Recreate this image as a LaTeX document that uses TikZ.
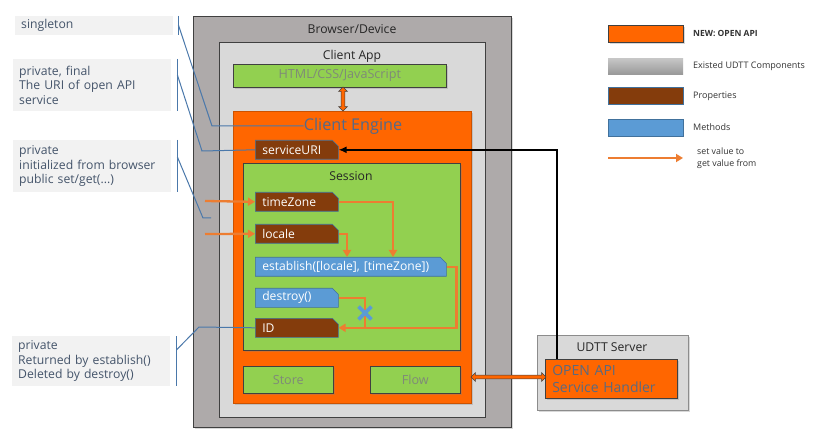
\documentclass[tikz,border=0pt]{standalone}
\usepackage{fontspec}
\setmainfont{Open Sans}
\usetikzlibrary{arrows.meta,shapes.misc,shapes.arrows,calc,shadows}
\definecolor{bgray}{HTML}{AEAAAA}
\definecolor{dkline}{HTML}{404040}
\definecolor{capp}{HTML}{D9D9D9}
\definecolor{eorange}{HTML}{FF6600}
\definecolor{greenc}{HTML}{92D050}
\definecolor{brownc}{HTML}{843C0C}
\definecolor{methblue}{HTML}{5B9BD5}
\definecolor{propline}{HTML}{41719C}
\definecolor{aorange}{HTML}{ED7D31}
\definecolor{notegray}{HTML}{F2F2F2}
\definecolor{notetext}{HTML}{44546A}
\definecolor{bracketc}{HTML}{4A78AA}
\definecolor{gtext}{HTML}{7F8A78}
\definecolor{cetext}{HTML}{53698A}
\definecolor{htext}{HTML}{5A6A80}
\begin{document}
\begin{tikzpicture}[x=1pt,y=-1pt,
  box/.style={anchor=north west, inner sep=0pt},
  shdw/.style={drop shadow={shadow xshift=1.5pt, shadow yshift=-1.5pt, opacity=0.3}},
  title/.style={inner sep=0pt, text=black!85, font=\fontsize{12.2}{14}\selectfont},
  note/.style={anchor=north west, fill=notegray, inner xsep=6pt, inner ysep=0pt,
    minimum width=158pt, text width=146pt, align=left, text=notetext,
    font=\fontsize{12.2}{14.3}\selectfont},
  bracket/.style={draw=bracketc, line width=1pt},
  greenbox/.style={box, fill=greenc, draw=dkline, line width=0.6pt, text=gtext,
    font=\fontsize{12.6}{14}\selectfont, shdw},
  prop/.style={anchor=north west, chamfered rectangle, chamfered rectangle corners=north east,
    chamfered rectangle xsep=3pt, chamfered rectangle ysep=3pt,
    draw=propline, line width=0.6pt, fill=brownc, text=white, inner xsep=4pt, inner ysep=0pt,
    minimum height=19pt, align=left, font=\fontsize{12.1}{14}\selectfont},
  meth/.style={prop, fill=methblue},
  oarrow/.style={draw=aorange, line width=2.3pt, -{Triangle[length=7pt,width=8pt]}},
  oline/.style={draw=aorange, line width=2.3pt},
  dblarrow/.style={double arrow, draw=dkline, fill=eorange, line width=0.5pt,
    inner sep=1.7pt, double arrow head extend=2.5pt},
  legtext/.style={anchor=west, inner sep=0pt, text=black!80, font=\fontsize{9}{12}\selectfont},
]
\useasboundingbox (0,0) rectangle (815,441);
\fill[white] (0,0) rectangle (815,441);

% annotations
\node[note, minimum height=19pt] (n1) at (15,16) {singleton};
\node[note, minimum height=52pt] (n2) at (13,59) {private, final\\The URI of open API\\service};
\node[note, minimum height=52pt] (n3) at (13,140) {private\\initialized from browser\\public set/get(...)};
\node[note, minimum height=50pt] (n4) at (12,336) {private\\Returned by establish()\\Deleted by destroy()};

% containers
\node[box, fill=bgray, draw=dkline, line width=0.8pt, minimum width=318pt, minimum height=411pt, shdw] (browser) at (193,16) {};
\node[title] (browsert) at (352,29) {Browser/Device};
\node[box, fill=capp, draw=dkline, line width=0.6pt, minimum width=266pt, minimum height=375pt] (capp) at (219,42) {};
\node[title] (cappt) at (352,56) {Client App};
\node[greenbox, minimum width=213pt, minimum height=23pt] (html) at (233,64) {HTML/CSS/JavaScript};
\node[box, fill=eorange, draw=eorange!80!black, line width=0.5pt, minimum width=238pt, minimum height=292pt, shdw] (engine) at (233,111) {};
\node[inner sep=0pt, text=cetext, font=\fontsize{16.2}{19}\selectfont] (cetitle) at (353,126) {Client Engine};
\node[prop, minimum width=83pt, text width=69pt] (suri) at (255,140) {serviceURI};
\node[box, fill=greenc, draw=dkline, line width=0.6pt, minimum width=217pt, minimum height=187pt, shdw] (session) at (243,163) {};
\node[title] (sessiont) at (351,176) {Session};
\node[prop, minimum width=83pt, text width=69pt] (tz) at (255,192) {timeZone};
\node[prop, minimum width=83pt, text width=69pt] (loc) at (255,224) {locale};
\node[meth, minimum width=191pt, text width=177pt] (est) at (255,257) {establish([locale], [timeZone])};
\node[meth, minimum width=83pt, text width=69pt] (des) at (255,288) {destroy()};
\node[prop, minimum width=83pt, text width=69pt] (idb) at (255,318) {ID};
\node[greenbox, minimum width=90pt, minimum height=27pt] (store) at (243,366) {Store};
\node[greenbox, minimum width=90pt, minimum height=27pt] (flow) at (370,366) {Flow};

% server
\node[box, fill=capp, draw=black!45, line width=0.6pt, minimum width=151pt, minimum height=75pt, shdw] (udtt) at (537,335) {};
\node[title] (udttt) at (612,347) {UDTT Server};
\node[box, fill=eorange, draw=dkline, line width=0.6pt, minimum width=132pt, minimum height=39pt,
  inner xsep=7pt, text width=118pt, align=left, text=htext, font=\fontsize{14}{17}\selectfont, shdw] (handler) at (545,359) {OPEN API\\Service Handler};

% double arrows
\node[dblarrow, minimum height=24pt, rotate=90] (varrow) at (343,99) {};
\node[dblarrow, minimum height=75pt] (harrow) at (508.5,377) {};

% black arrow
\draw[line width=2pt, -{Latex[length=8pt,width=7pt]}] ([xshift=12pt]handler.north west) |- (suri.east);

% session arrows
\coordinate (in1) at (205,201);
\coordinate (in2) at (205,234);
\draw[oarrow] (in1) -- (tz.west);
\draw[oarrow] (in2) -- (loc.west);
\draw[oarrow] (tz.east) -| ($(est.north west)+(138,0)$);
\draw[oarrow] (loc.east) -| ($(est.north west)+(92,0)$);
\draw[oarrow] (est.east) -- ++(10,0) |- (idb.east);
\coordinate (xmc) at (365,313);
\draw[oline] (des.east) -| (xmc) -- (xmc |- idb.east);
\node[cross out, draw=methblue, line width=3.8pt, minimum size=9pt, inner sep=0pt] (xm) at (xmc) {};

% brackets
\draw[bracket] ([xshift=5pt]n1.north east) -- ([xshift=5pt]n1.south east);
\draw[bracket] ([xshift=5pt,yshift=-9pt]n1.north east) -- (212,126) -- (cetitle.west);
\draw[bracket] ([xshift=6pt]n2.north east) -- ([xshift=6pt]n2.south east);
\draw[bracket] ([xshift=6pt,yshift=-16pt]n2.north east) -- (202,151) -- (suri.west);
\draw[bracket] ([xshift=6pt]n3.north east) -- ([xshift=6pt]n3.south east);
\coordinate (b3end) at (211,218);
\draw[bracket] ([xshift=6pt,yshift=-17pt]n3.north east) -- (203,218) -- (b3end);
\draw[bracket] ([xshift=6pt]n4.north east) -- ([xshift=6pt]n4.south east);
\draw[bracket] ([xshift=6pt,yshift=-14pt]n4.north east) -- (199,327) -- (idb.west);

% legend
\node[box, fill=eorange, draw=dkline, line width=0.8pt, minimum width=75pt, minimum height=17pt, shdw] (lg1) at (608,25) {};
\node[legtext, font=\bfseries\fontsize{8.5}{10}\selectfont] (lg1t) at (693,33) {NEW: OPEN API};
\node[box, top color=black!22, bottom color=black!40, minimum width=75pt, minimum height=16pt] (lg2) at (608,58) {};
\node[legtext] (lg2t) at (693,66) {Existed UDTT Components};
\node[box, fill=brownc, draw=propline, line width=0.8pt, minimum width=75pt, minimum height=17pt] (lg3) at (608,87) {};
\node[legtext] (lg3t) at (693,96) {Properties};
\node[box, fill=methblue, draw=propline, line width=0.8pt, minimum width=75pt, minimum height=17pt] (lg4) at (608,119) {};
\node[legtext] (lg4t) at (693,127) {Methods};
\coordinate (la1) at (608,158);
\coordinate (la2) at (683,158);
\draw[oarrow] (la1) -- (la2);
\node[legtext, align=left, font=\fontsize{8.8}{12}\selectfont] (lg5t) at (697,158) {set value to\\get value from};
\end{tikzpicture}
\end{document}
